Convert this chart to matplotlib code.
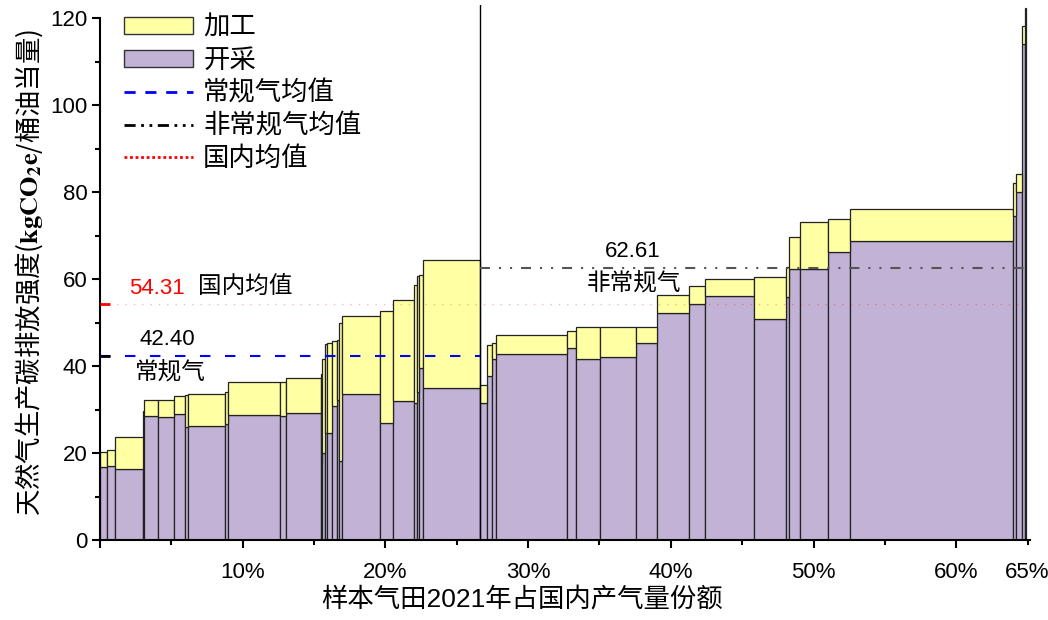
import numpy as np
import matplotlib
matplotlib.use("Agg")
import matplotlib.pyplot as plt
from matplotlib import font_manager
from matplotlib.patches import Patch
from matplotlib.lines import Line2D
from matplotlib.ticker import FixedLocator, FixedFormatter

# 常规气田: 产量份额(%), 开采 / 加工 碳排放强度
conv_share = [0.47, 0.60, 1.96, 0.05, 0.98, 1.10, 0.82, 0.21, 2.55, 0.25, 3.62, 0.39, 2.47,
              0.11, 0.17, 0.14, 0.39, 0.35, 0.14, 0.21, 2.62, 0.95, 1.45, 0.19, 0.16, 0.31, 3.99]
conv_mining = [16.7, 17.1, 16.3, 28.0, 28.5, 28.2, 29.0, 25.9, 26.3, 26.6, 28.7, 28.6, 29.1,
               17.7, 20.0, 24.5, 24.5, 30.8, 32.3, 18.2, 33.6, 26.8, 31.9, 31.6, 34.0, 39.5, 35.0]
conv_process = [3.6, 3.6, 7.4, 1.6, 3.7, 4.1, 4.1, 7.4, 7.3, 7.4, 7.7, 7.8, 8.1,
                20.5, 21.5, 20.5, 20.9, 15.0, 13.6, 31.8, 17.8, 25.8, 23.3, 27.0, 26.6, 21.5, 29.4]

# 非常规气田
unconv_share = [0.45, 0.35, 0.30, 5.00, 0.61, 1.68, 2.52, 1.45, 2.24, 1.13, 3.43, 2.24,
                0.23, 0.77, 1.94, 1.58, 11.42, 0.18, 0.46, 0.22, 0.07]
unconv_mining = [31.6, 37.8, 41.5, 42.8, 44.1, 41.5, 42.0, 45.2, 52.3, 54.2, 56.0, 50.9,
                 55.9, 62.4, 62.2, 66.2, 68.7, 74.6, 79.9, 114.0, 120.5]
unconv_process = [4.0, 7.0, 3.9, 4.3, 3.9, 7.4, 7.0, 3.8, 4.0, 4.1, 4.1, 9.5,
                  6.9, 7.2, 11.0, 7.6, 7.3, 7.4, 4.2, 4.2, 1.8]

conv_mean = 42.40
unconv_mean = 62.61
national_mean = 54.31

x_major = [0, 10, 20, 30, 40, 50, 60]
x_major_labels = ["", "10%", "20%", "30%", "40%", "50%", "60%"]
x_minor = [5, 15, 25, 35, 45, 55, 65]
x_minor_labels = ["", "", "", "", "", "", "65%"]

YELLOW = "#FFFFA3"
PURPLE = "#C2B3D6"
EDGE = "#222222"

names = {f.name for f in font_manager.fontManager.ttflist}
narrow = "Liberation Sans Narrow" if "Liberation Sans Narrow" in names else "Liberation Sans"
cjk = "Noto Sans CJK SC"

plt.rcParams["font.family"] = ["Liberation Sans", cjk, "DejaVu Sans"]
plt.rcParams["mathtext.fontset"] = "stix"

share = np.array(conv_share + unconv_share)
mining = np.array(conv_mining + unconv_mining)
process = np.array(conv_process + unconv_process)
left = np.concatenate([[0], np.cumsum(share)[:-1]])
split = sum(conv_share)
total_x = share.sum()

fig = plt.figure(figsize=(10.48, 6.2), dpi=100)
ax = fig.add_axes([100 / 1048, 80 / 620, 930 / 1048, 535 / 620])

ax.bar(left, mining, width=share, align="edge", color=PURPLE,
       edgecolor=EDGE, linewidth=0.9, zorder=2)
ax.bar(left, process, width=share, bottom=mining, align="edge", color=YELLOW,
       edgecolor=EDGE, linewidth=0.9, zorder=2)

# 分隔线和均值线
ax.axvline(split, color="black", linewidth=1.0, zorder=3)
ax.plot([0, split], [conv_mean, conv_mean], color="#0000FF", linewidth=1.5,
        dashes=(5, 7), zorder=4)
ax.plot([split, total_x], [unconv_mean, unconv_mean], color="#555555", linewidth=1.5,
        dashes=(4.8, 4.3, 1, 4.3, 1, 4.3), zorder=4)
ax.plot([0, total_x], [national_mean, national_mean], color="red", alpha=0.3,
        linewidth=1.0, dashes=(1, 5), zorder=4)
ax.plot([0, 0.7], [conv_mean, conv_mean], color="black", linewidth=2, zorder=5,
        solid_capstyle="butt", clip_on=False)
ax.plot([0, 0.7], [national_mean, national_mean], color="red", linewidth=2, zorder=5,
        solid_capstyle="butt", clip_on=False)

ax.text(4.7, conv_mean + 1.2, f"{conv_mean:.2f}", fontsize=16, ha="center", va="bottom")
ax.text(4.9, conv_mean - 1.2, "常规气", fontsize=17, ha="center", va="top", family=cjk)
ax.text(4.0, national_mean + 1.2, f"{national_mean:.2f}", fontsize=16, color="red",
        ha="center", va="bottom")
ax.text(10.2, national_mean + 1.2, "国内均值", fontsize=17, ha="center", va="bottom", family=cjk)
ax.text(37.3, unconv_mean + 1.2, f"{unconv_mean:.2f}", fontsize=16, ha="center", va="bottom")
ax.text(37.4, unconv_mean - 1.0, "非常规气", fontsize=17, ha="center", va="top", family=cjk)

ax.set_xlim(0, 65.17)
ax.set_ylim(0, 123)
for side in ["top", "right"]:
    ax.spines[side].set_visible(False)
ax.spines["left"].set_bounds(0, 120)
ax.spines["left"].set_linewidth(1.5)
ax.spines["bottom"].set_linewidth(1.5)

ax.yaxis.set_major_locator(FixedLocator([0, 20, 40, 60, 80, 100, 120]))
ax.yaxis.set_minor_locator(FixedLocator([10, 30, 50, 70, 90, 110]))
ax.xaxis.set_major_locator(FixedLocator(x_major))
ax.xaxis.set_major_formatter(FixedFormatter(x_major_labels))
ax.xaxis.set_minor_locator(FixedLocator(x_minor))
ax.xaxis.set_minor_formatter(FixedFormatter(x_minor_labels))
ax.tick_params(axis="y", which="major", length=6, width=1.5, labelsize=16, pad=3)
ax.tick_params(axis="y", which="minor", length=3.5, width=1.5)
ax.tick_params(axis="x", which="major", length=6, width=1.5, labelsize=16, pad=10)
ax.tick_params(axis="x", which="minor", length=3.5, width=1.5, labelsize=16, pad=12.5)
for lab in ax.get_xticklabels() + ax.get_xticklabels(minor=True):
    lab.set_family([narrow, cjk])

ax.set_ylabel("天然气生产碳排放强度(" + r"$\mathbf{kgCO_2e}$" + "/桶油当量)",
              fontsize=19, family=cjk, labelpad=4)
ax.set_xlabel("样本气田2021年占国内产气量份额", fontsize=19, family=[narrow, cjk])
ax.xaxis.set_label_coords(0.454, -0.088)

handles = [
    Patch(facecolor=YELLOW, edgecolor="#333333", linewidth=1.0),
    Patch(facecolor=PURPLE, edgecolor="#333333", linewidth=1.0),
    Line2D([], [], color="#0000FF", linewidth=2, dashes=(4, 3.5)),
    Line2D([], [], color="black", linewidth=2, dashes=(4, 2, 1, 2, 1, 2)),
    Line2D([], [], color="red", linewidth=2, dashes=(1, 1)),
]
labels = ["加工", "开采", "常规气均值", "非常规气均值", "国内均值"]
ax.legend(handles, labels, loc="upper left", bbox_to_anchor=(124 / 1048, 1 - 14 / 620),
          bbox_transform=fig.transFigure, frameon=False, prop={"family": cjk, "size": 19},
          handlelength=2.6, handleheight=0.6, labelspacing=0.22, handletextpad=0.4,
          borderpad=0, borderaxespad=0)

fig.savefig("out.png", dpi=100)
